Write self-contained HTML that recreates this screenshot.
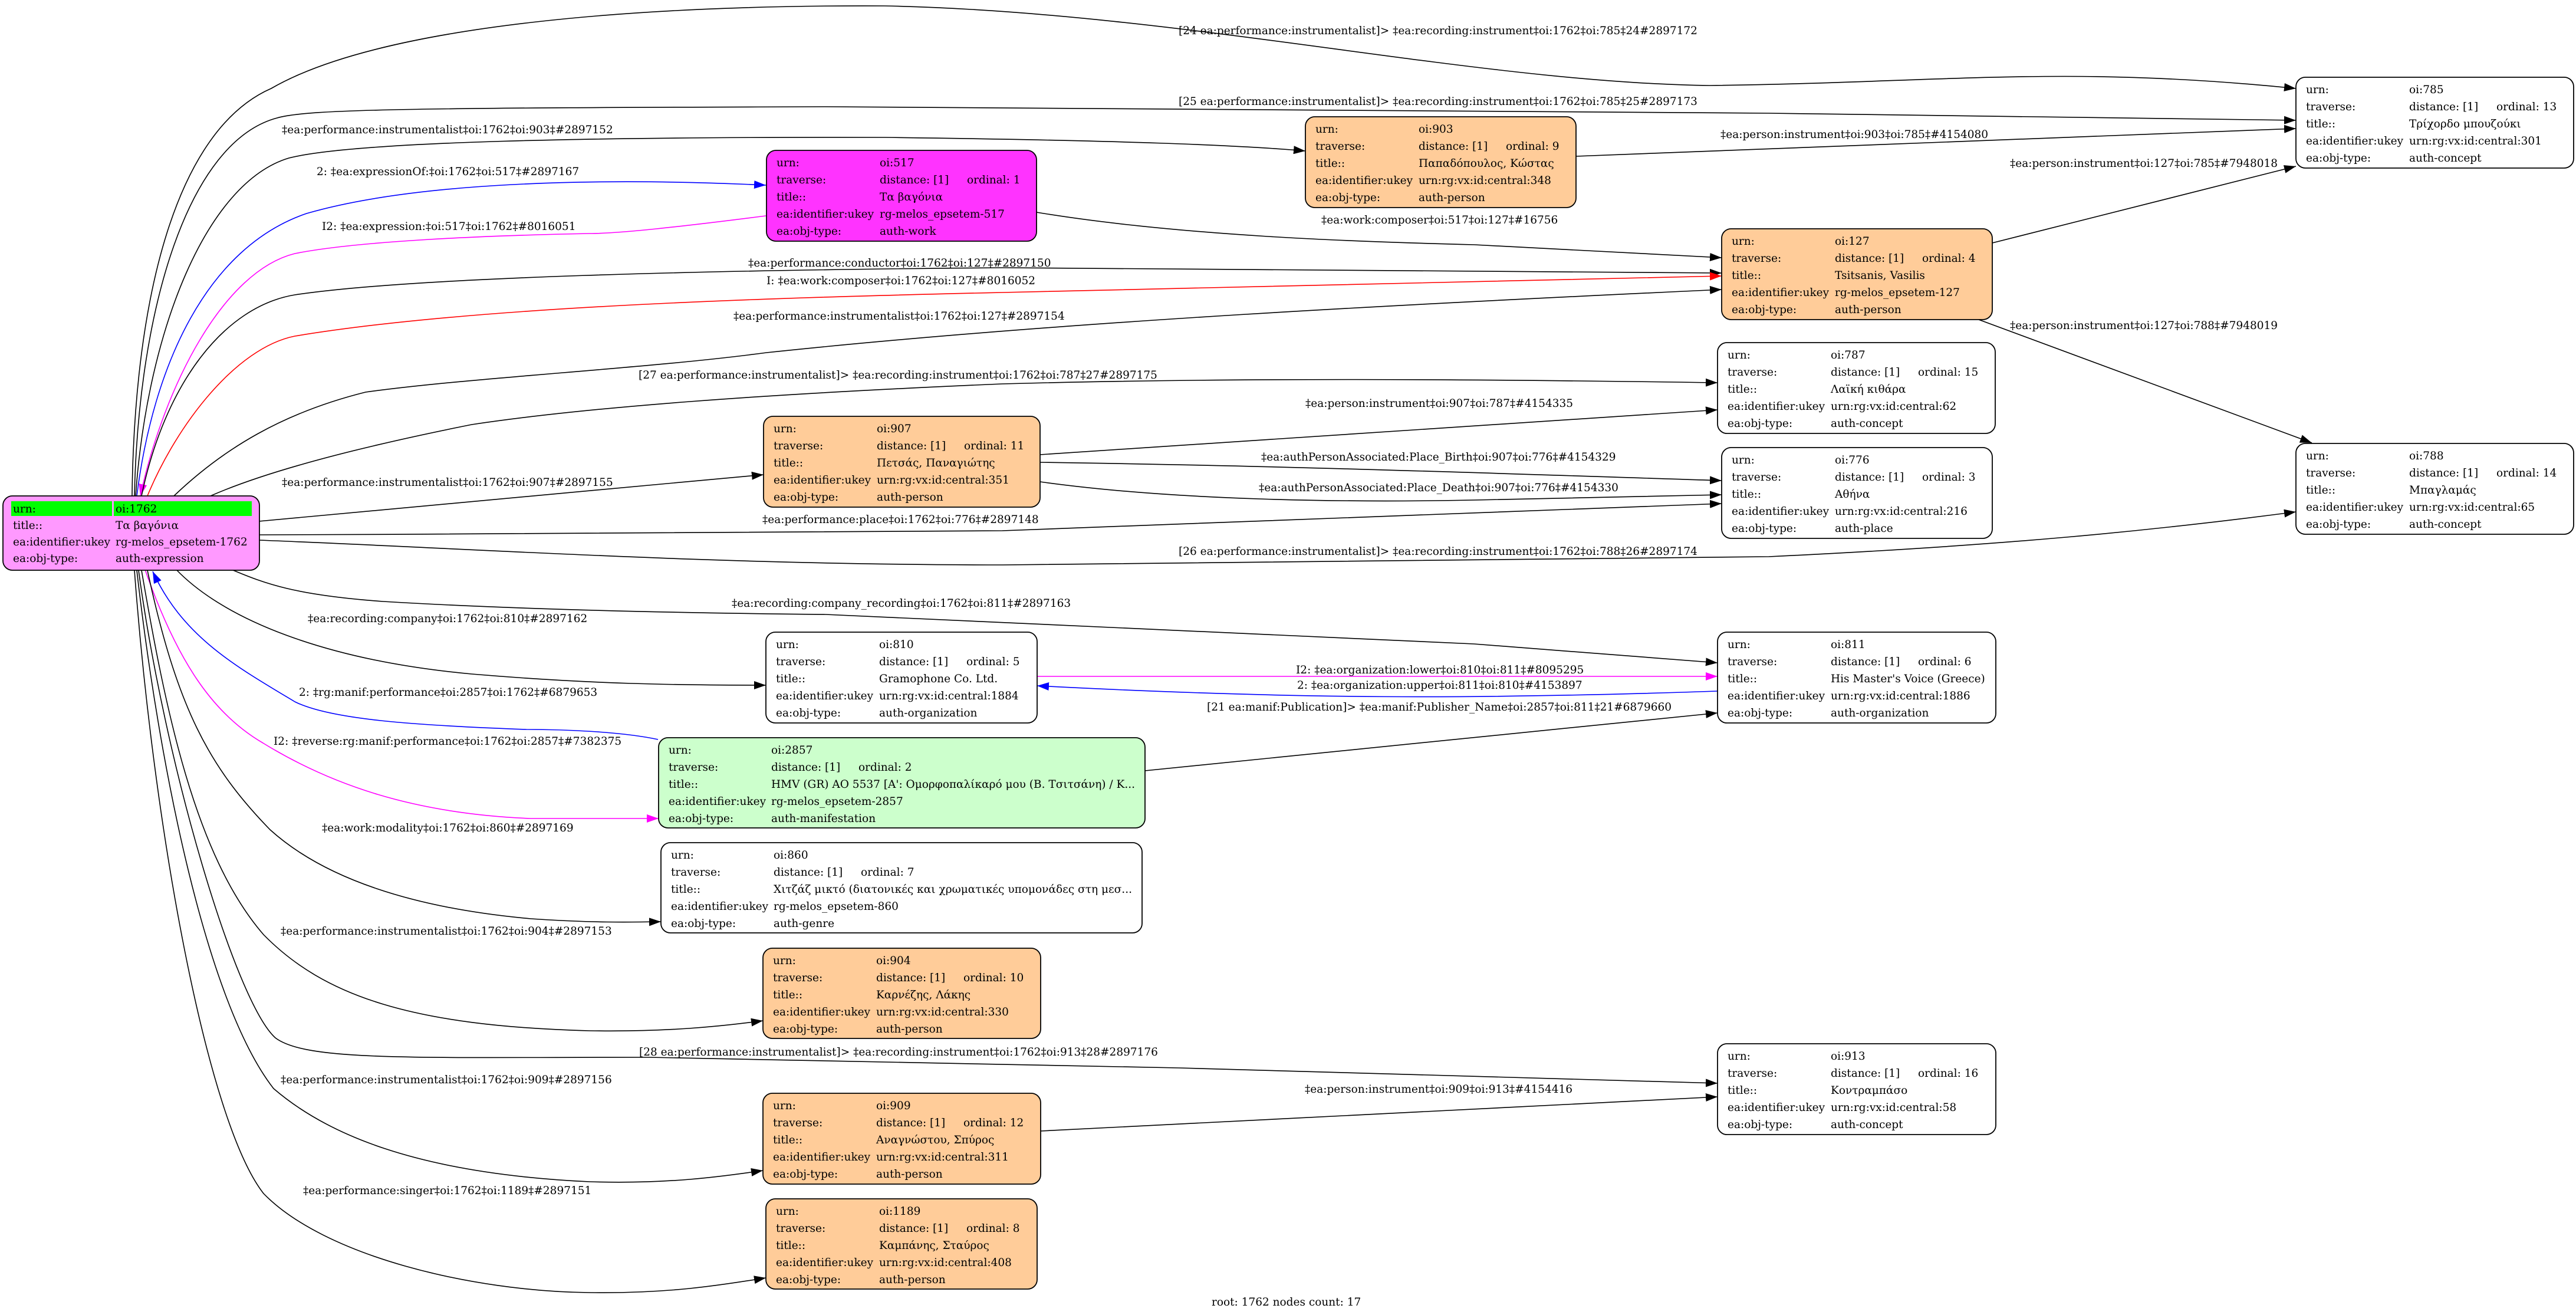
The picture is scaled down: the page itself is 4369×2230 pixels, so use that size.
<!DOCTYPE html>
<html><head><meta charset="utf-8">
<style>
html,body{margin:0;padding:0;background:#fff;}
svg{display:block;}
text{font-family:"DejaVu Serif","Liberation Serif",serif;font-size:18.5px;fill:#000;}
.e{fill:none;stroke:#000;stroke-width:1.6;}
.b{stroke:#0000ff;}
.m{stroke:#ff00ff;}
.r{stroke:#ff0000;}
.n{stroke:#000;stroke-width:1.8;}
</style></head>
<body>
<svg width="4369" height="2230" viewBox="0 0 4369 2230" xmlns="http://www.w3.org/2000/svg">
<defs>
<marker id="ak" markerUnits="userSpaceOnUse" markerWidth="22" markerHeight="14" refX="20" refY="7" orient="auto"><path d="M0,0 L20,7 L0,14 z" fill="#000"/></marker>
<marker id="ab" markerUnits="userSpaceOnUse" markerWidth="22" markerHeight="14" refX="20" refY="7" orient="auto"><path d="M0,0 L20,7 L0,14 z" fill="#0000ff"/></marker>
<marker id="am" markerUnits="userSpaceOnUse" markerWidth="22" markerHeight="14" refX="20" refY="7" orient="auto"><path d="M0,0 L20,7 L0,14 z" fill="#ff00ff"/></marker>
<marker id="ar" markerUnits="userSpaceOnUse" markerWidth="22" markerHeight="14" refX="20" refY="7" orient="auto"><path d="M0,0 L20,7 L0,14 z" fill="#ff0000"/></marker>
</defs>

<!-- edges -->
<path class="e" marker-end="url(#ak)" d="M224,841 C228,500 300,220 460,150 C650,40 1100,8 1500,10 C2000,20 2500,140 2900,145 C3300,140 3500,110 3894,150"/>
<text x="1999" y="58">[24 ea:performance:instrumentalist]&gt; ‡ea:recording:instrument‡oi:1762‡oi:785‡24#2897172</text>

<path class="e" marker-end="url(#ak)" d="M228,841 C235,520 320,240 470,200 C520,185 700,183 1400,181 L3000,192 L3894,204"/>
<text x="1999" y="178">[25 ea:performance:instrumentalist]&gt; ‡ea:recording:instrument‡oi:1762‡oi:785‡25#2897173</text>

<path class="e" marker-end="url(#ak)" d="M230,841 C250,560 350,310 490,268 C600,240 1000,232 1500,233 C1900,238 2100,246 2214,256"/>
<text x="478" y="226">‡ea:performance:instrumentalist‡oi:1762‡oi:903‡#2897152</text>

<path class="e b" marker-end="url(#ab)" d="M232,841 C260,620 350,420 520,362 C700,310 1000,300 1299,314"/>
<text x="537" y="297">2: ‡ea:expressionOf:‡oi:1762‡oi:517‡#2897167</text>

<path class="e m" marker-end="url(#am)" d="M1299,366 C1150,385 1050,396 1000,396 C800,400 600,410 500,430 C380,460 280,650 238,841"/>
<text x="546" y="390">I2: ‡ea:expression:‡oi:517‡oi:1762‡#8016051</text>

<path class="e" marker-end="url(#ak)" d="M240,841 C280,650 380,520 500,500 C700,470 1200,458 1700,454 L2920,463"/>
<text x="1269" y="452">‡ea:performance:conductor‡oi:1762‡oi:127‡#2897150</text>

<path class="e r" marker-end="url(#ar)" d="M250,841 C300,720 400,590 500,570 C800,520 1300,505 1700,496 L2920,468"/>
<text x="1300" y="482">I: ‡ea:work:composer‡oi:1762‡oi:127‡#8016052</text>

<path class="e" marker-end="url(#ak)" d="M295,841 C380,760 480,700 620,665 C800,640 1100,625 1300,598 C1800,545 2400,515 2920,491"/>
<text x="1244" y="542">‡ea:performance:instrumentalist‡oi:1762‡oi:127‡#2897154</text>

<path class="e" marker-end="url(#ak)" d="M357,841 C450,800 600,760 800,720 C1000,690 1300,668 1700,651 C2100,640 2500,643 2913,649"/>
<text x="1083" y="642">[27 ea:performance:instrumentalist]&gt; ‡ea:recording:instrument‡oi:1762‡oi:787‡27#2897175</text>

<path class="e" marker-end="url(#ak)" d="M439,884 C700,860 1000,832 1295,805"/>
<text x="478" y="824">‡ea:performance:instrumentalist‡oi:1762‡oi:907‡#2897155</text>

<path class="e" marker-end="url(#ak)" d="M439,907 C900,905 1400,905 1700,900 L2920,854"/>
<text x="1293" y="887">‡ea:performance:place‡oi:1762‡oi:776‡#2897148</text>

<path class="e" marker-end="url(#ak)" d="M439,916 C800,930 1200,958 1700,958 L3000,944 C3400,925 3650,900 3894,868"/>
<text x="1999" y="941">[26 ea:performance:instrumentalist]&gt; ‡ea:recording:instrument‡oi:1762‡oi:788‡26#2897174</text>

<path class="e" marker-end="url(#ak)" d="M393,966 C450,990 500,1009 650,1020 C900,1035 1200,1040 1400,1042 L2500,1092 L2913,1124"/>
<text x="1241" y="1029">‡ea:recording:company_recording‡oi:1762‡oi:811‡#2897163</text>

<path class="e" marker-end="url(#ak)" d="M299,966 C380,1050 550,1120 800,1143 C1000,1160 1150,1162 1299,1162"/>
<text x="522" y="1055">‡ea:recording:company‡oi:1762‡oi:810‡#2897162</text>

<path class="e b" marker-end="url(#ab)" d="M1116,1254 C1050,1240 950,1237 893,1237 C700,1230 560,1220 500,1190 C400,1130 310,1080 259,969"/>
<text x="507" y="1180">2: ‡rg:manif:performance‡oi:2857‡oi:1762‡#6879653</text>

<path class="e m" marker-end="url(#am)" d="M246,966 C300,1120 360,1210 446,1260 C560,1330 700,1380 900,1388 L1117,1388"/>
<text x="464" y="1263">I2: ‡reverse:rg:manif:performance‡oi:1762‡oi:2857‡#7382375</text>

<path class="e" marker-end="url(#ak)" d="M250,967 C300,1200 354,1300 458,1407 C550,1490 700,1540 900,1558 C1000,1565 1070,1564 1121,1563"/>
<text x="546" y="1410">‡ea:work:modality‡oi:1762‡oi:860‡#2897169</text>

<path class="e" marker-end="url(#ak)" d="M240,967 C280,1200 330,1450 447,1585 C550,1690 700,1740 1000,1748 C1130,1750 1220,1741 1294,1731"/>
<text x="476" y="1585">‡ea:performance:instrumentalist‡oi:1762‡oi:904‡#2897153</text>

<path class="e" marker-end="url(#ak)" d="M235,967 C280,1300 400,1700 467,1760 C520,1800 700,1793 1100,1793 L2000,1811 L2913,1837"/>
<text x="1084" y="1790">[28 ea:performance:instrumentalist]&gt; ‡ea:recording:instrument‡oi:1762‡oi:913‡28#2897176</text>

<path class="e" marker-end="url(#ak)" d="M232,967 C270,1300 350,1700 464,1846 C550,1920 700,1990 1000,2004 C1130,2008 1220,1996 1294,1985"/>
<text x="476" y="1837">‡ea:performance:instrumentalist‡oi:1762‡oi:909‡#2897156</text>

<path class="e" marker-end="url(#ak)" d="M228,967 C260,1400 350,1900 447,2024 C550,2130 800,2190 1000,2192 C1130,2194 1220,2180 1299,2167"/>
<text x="514" y="2025">‡ea:performance:singer‡oi:1762‡oi:1189‡#2897151</text>

<path class="e" marker-end="url(#ak)" d="M1765,1918 L2913,1860"/>
<text x="2213" y="1853">‡ea:person:instrument‡oi:909‡oi:913‡#4154416</text>

<path class="e" marker-end="url(#ak)" d="M1758,360 C2000,400 2300,410 2500,415 L2920,437"/>
<text x="2241" y="379">‡ea:work:composer‡oi:517‡oi:127‡#16756</text>

<path class="e" marker-end="url(#ak)" d="M2673,265 L3894,218"/>
<text x="2918" y="234">‡ea:person:instrument‡oi:903‡oi:785‡#4154080</text>

<path class="e" marker-end="url(#ak)" d="M3379,412 L3894,282"/>
<text x="3409" y="283">‡ea:person:instrument‡oi:127‡oi:785‡#7948018</text>

<path class="e" marker-end="url(#ak)" d="M3356,542 L3921,751"/>
<text x="3409" y="558">‡ea:person:instrument‡oi:127‡oi:788‡#7948019</text>

<path class="e" marker-end="url(#ak)" d="M1764,771 L2913,695"/>
<text x="2214" y="690">‡ea:person:instrument‡oi:907‡oi:787‡#4154335</text>

<path class="e" marker-end="url(#ak)" d="M1764,784 C2200,790 2600,805 2920,815"/>
<text x="2139" y="781">‡ea:authPersonAssociated:Place_Birth‡oi:907‡oi:776‡#4154329</text>

<path class="e" marker-end="url(#ak)" d="M1764,817 C2000,850 2300,852 2500,848 L2920,839"/>
<text x="2135" y="833">‡ea:authPersonAssociated:Place_Death‡oi:907‡oi:776‡#4154330</text>

<path class="e m" marker-end="url(#am)" d="M1759,1147 L2913,1147"/>
<text x="2198" y="1142">I2: ‡ea:organization:lower‡oi:810‡oi:811‡#8095295</text>

<path class="e b" marker-end="url(#ab)" d="M2913,1172 C2500,1186 2200,1186 1759,1163"/>
<text x="2200" y="1168">2: ‡ea:organization:upper‡oi:811‡oi:810‡#4153897</text>

<path class="e" marker-end="url(#ak)" d="M1942,1307 L2913,1209"/>
<text x="2047" y="1205">[21 ea:manif:Publication]&gt; ‡ea:manif:Publisher_Name‡oi:2857‡oi:811‡21#6879660</text>

<!-- nodes -->
<g transform="translate(5,841)">
<rect class="n" width="435" height="126" rx="16" fill="#ff99ff"/>
<rect x="14" y="9" width="171" height="25" fill="#00ff00"/>
<rect x="188" y="9" width="234" height="25" fill="#00ff00"/>
<text x="17" y="28">urn:</text><text x="191" y="28">oi:1762</text>
<text x="17" y="56">title::</text><text x="191" y="56">Τα βαγόνια</text>
<text x="17" y="84">ea:identifier:ukey</text><text x="191" y="84">rg-melos_epsetem-1762</text>
<text x="17" y="112">ea:obj-type:</text><text x="191" y="112">auth-expression</text>
</g>

<g transform="translate(1300,255)">
<rect class="n" width="458" height="154" rx="16" fill="#ff33ff"/>
<text x="17" y="27">urn:</text><text x="192" y="27">oi:517</text>
<text x="17" y="56">traverse:</text><text x="192" y="56">distance: [1]</text><text x="340" y="56">ordinal: 1</text>
<text x="17" y="85">title::</text><text x="192" y="85">Τα βαγόνια</text>
<text x="17" y="114">ea:identifier:ukey</text><text x="192" y="114">rg-melos_epsetem-517</text>
<text x="17" y="143">ea:obj-type:</text><text x="192" y="143">auth-work</text>
</g>

<g transform="translate(2214,198)">
<rect class="n" width="459" height="154" rx="16" fill="#ffcc99"/>
<text x="17" y="27">urn:</text><text x="192" y="27">oi:903</text>
<text x="17" y="56">traverse:</text><text x="192" y="56">distance: [1]</text><text x="340" y="56">ordinal: 9</text>
<text x="17" y="85">title::</text><text x="192" y="85">Παπαδόπουλος, Κώστας</text>
<text x="17" y="114">ea:identifier:ukey</text><text x="192" y="114">urn:rg:vx:id:central:348</text>
<text x="17" y="143">ea:obj-type:</text><text x="192" y="143">auth-person</text>
</g>

<g transform="translate(2920,388)">
<rect class="n" width="459" height="154" rx="16" fill="#ffcc99"/>
<text x="17" y="27">urn:</text><text x="192" y="27">oi:127</text>
<text x="17" y="56">traverse:</text><text x="192" y="56">distance: [1]</text><text x="340" y="56">ordinal: 4</text>
<text x="17" y="85">title::</text><text x="192" y="85">Tsitsanis, Vasilis</text>
<text x="17" y="114">ea:identifier:ukey</text><text x="192" y="114">rg-melos_epsetem-127</text>
<text x="17" y="143">ea:obj-type:</text><text x="192" y="143">auth-person</text>
</g>

<g transform="translate(3894,131)">
<rect class="n" width="471" height="154" rx="16" fill="#fff"/>
<text x="17" y="27">urn:</text><text x="192" y="27">oi:785</text>
<text x="17" y="56">traverse:</text><text x="192" y="56">distance: [1]</text><text x="340" y="56">ordinal: 13</text>
<text x="17" y="85">title::</text><text x="192" y="85">Τρίχορδο μπουζούκι</text>
<text x="17" y="114">ea:identifier:ukey</text><text x="192" y="114">urn:rg:vx:id:central:301</text>
<text x="17" y="143">ea:obj-type:</text><text x="192" y="143">auth-concept</text>
</g>

<g transform="translate(2913,581)">
<rect class="n" width="471" height="154" rx="16" fill="#fff"/>
<text x="17" y="27">urn:</text><text x="192" y="27">oi:787</text>
<text x="17" y="56">traverse:</text><text x="192" y="56">distance: [1]</text><text x="340" y="56">ordinal: 15</text>
<text x="17" y="85">title::</text><text x="192" y="85">Λαϊκή κιθάρα</text>
<text x="17" y="114">ea:identifier:ukey</text><text x="192" y="114">urn:rg:vx:id:central:62</text>
<text x="17" y="143">ea:obj-type:</text><text x="192" y="143">auth-concept</text>
</g>

<g transform="translate(1295,706)">
<rect class="n" width="469" height="154" rx="16" fill="#ffcc99"/>
<text x="17" y="27">urn:</text><text x="192" y="27">oi:907</text>
<text x="17" y="56">traverse:</text><text x="192" y="56">distance: [1]</text><text x="340" y="56">ordinal: 11</text>
<text x="17" y="85">title::</text><text x="192" y="85">Πετσάς, Παναγιώτης</text>
<text x="17" y="114">ea:identifier:ukey</text><text x="192" y="114">urn:rg:vx:id:central:351</text>
<text x="17" y="143">ea:obj-type:</text><text x="192" y="143">auth-person</text>
</g>

<g transform="translate(2920,759)">
<rect class="n" width="459" height="154" rx="16" fill="#fff"/>
<text x="17" y="27">urn:</text><text x="192" y="27">oi:776</text>
<text x="17" y="56">traverse:</text><text x="192" y="56">distance: [1]</text><text x="340" y="56">ordinal: 3</text>
<text x="17" y="85">title::</text><text x="192" y="85">Αθήνα</text>
<text x="17" y="114">ea:identifier:ukey</text><text x="192" y="114">urn:rg:vx:id:central:216</text>
<text x="17" y="143">ea:obj-type:</text><text x="192" y="143">auth-place</text>
</g>

<g transform="translate(3894,752)">
<rect class="n" width="471" height="154" rx="16" fill="#fff"/>
<text x="17" y="27">urn:</text><text x="192" y="27">oi:788</text>
<text x="17" y="56">traverse:</text><text x="192" y="56">distance: [1]</text><text x="340" y="56">ordinal: 14</text>
<text x="17" y="85">title::</text><text x="192" y="85">Μπαγλαμάς</text>
<text x="17" y="114">ea:identifier:ukey</text><text x="192" y="114">urn:rg:vx:id:central:65</text>
<text x="17" y="143">ea:obj-type:</text><text x="192" y="143">auth-concept</text>
</g>

<g transform="translate(1299,1072)">
<rect class="n" width="460" height="154" rx="16" fill="#fff"/>
<text x="17" y="27">urn:</text><text x="192" y="27">oi:810</text>
<text x="17" y="56">traverse:</text><text x="192" y="56">distance: [1]</text><text x="340" y="56">ordinal: 5</text>
<text x="17" y="85">title::</text><text x="192" y="85">Gramophone Co. Ltd.</text>
<text x="17" y="114">ea:identifier:ukey</text><text x="192" y="114">urn:rg:vx:id:central:1884</text>
<text x="17" y="143">ea:obj-type:</text><text x="192" y="143">auth-organization</text>
</g>

<g transform="translate(2913,1072)">
<rect class="n" width="472" height="154" rx="16" fill="#fff"/>
<text x="17" y="27">urn:</text><text x="192" y="27">oi:811</text>
<text x="17" y="56">traverse:</text><text x="192" y="56">distance: [1]</text><text x="340" y="56">ordinal: 6</text>
<text x="17" y="85">title::</text><text x="192" y="85">His Master's Voice (Greece)</text>
<text x="17" y="114">ea:identifier:ukey</text><text x="192" y="114">urn:rg:vx:id:central:1886</text>
<text x="17" y="143">ea:obj-type:</text><text x="192" y="143">auth-organization</text>
</g>

<g transform="translate(1117,1251)">
<rect class="n" width="825" height="153" rx="16" fill="#ccffcc"/>
<text x="17" y="27">urn:</text><text x="191" y="27">oi:2857</text>
<text x="17" y="56">traverse:</text><text x="191" y="56">distance: [1]</text><text x="339" y="56">ordinal: 2</text>
<text x="17" y="85">title::</text><text x="191" y="85" textLength="617" lengthAdjust="spacingAndGlyphs">HMV (GR) AO 5537 [Α': Ομορφοπαλίκαρό μου (Β. Τσιτσάνη) / Κ...</text>
<text x="17" y="114">ea:identifier:ukey</text><text x="191" y="114">rg-melos_epsetem-2857</text>
<text x="17" y="143">ea:obj-type:</text><text x="191" y="143">auth-manifestation</text>
</g>

<g transform="translate(1121,1429)">
<rect class="n" width="816" height="153" rx="16" fill="#fff"/>
<text x="17" y="27">urn:</text><text x="191" y="27">oi:860</text>
<text x="17" y="56">traverse:</text><text x="191" y="56">distance: [1]</text><text x="339" y="56">ordinal: 7</text>
<text x="17" y="85">title::</text><text x="191" y="85" textLength="608" lengthAdjust="spacingAndGlyphs">Χιτζάζ μικτό (διατονικές και χρωματικές υπομονάδες στη μεσ...</text>
<text x="17" y="114">ea:identifier:ukey</text><text x="191" y="114">rg-melos_epsetem-860</text>
<text x="17" y="143">ea:obj-type:</text><text x="191" y="143">auth-genre</text>
</g>

<g transform="translate(1294,1608)">
<rect class="n" width="471" height="153" rx="16" fill="#ffcc99"/>
<text x="17" y="27">urn:</text><text x="192" y="27">oi:904</text>
<text x="17" y="56">traverse:</text><text x="192" y="56">distance: [1]</text><text x="340" y="56">ordinal: 10</text>
<text x="17" y="85">title::</text><text x="192" y="85">Καρνέζης, Λάκης</text>
<text x="17" y="114">ea:identifier:ukey</text><text x="192" y="114">urn:rg:vx:id:central:330</text>
<text x="17" y="143">ea:obj-type:</text><text x="192" y="143">auth-person</text>
</g>

<g transform="translate(2913,1770)">
<rect class="n" width="472" height="154" rx="16" fill="#fff"/>
<text x="17" y="27">urn:</text><text x="192" y="27">oi:913</text>
<text x="17" y="56">traverse:</text><text x="192" y="56">distance: [1]</text><text x="340" y="56">ordinal: 16</text>
<text x="17" y="85">title::</text><text x="192" y="85">Κοντραμπάσο</text>
<text x="17" y="114">ea:identifier:ukey</text><text x="192" y="114">urn:rg:vx:id:central:58</text>
<text x="17" y="143">ea:obj-type:</text><text x="192" y="143">auth-concept</text>
</g>

<g transform="translate(1294,1854)">
<rect class="n" width="471" height="154" rx="16" fill="#ffcc99"/>
<text x="17" y="27">urn:</text><text x="192" y="27">oi:909</text>
<text x="17" y="56">traverse:</text><text x="192" y="56">distance: [1]</text><text x="340" y="56">ordinal: 12</text>
<text x="17" y="85">title::</text><text x="192" y="85">Αναγνώστου, Σπύρος</text>
<text x="17" y="114">ea:identifier:ukey</text><text x="192" y="114">urn:rg:vx:id:central:311</text>
<text x="17" y="143">ea:obj-type:</text><text x="192" y="143">auth-person</text>
</g>

<g transform="translate(1299,2033)">
<rect class="n" width="460" height="153" rx="16" fill="#ffcc99"/>
<text x="17" y="27">urn:</text><text x="192" y="27">oi:1189</text>
<text x="17" y="56">traverse:</text><text x="192" y="56">distance: [1]</text><text x="340" y="56">ordinal: 8</text>
<text x="17" y="85">title::</text><text x="192" y="85">Καμπάνης, Σταύρος</text>
<text x="17" y="114">ea:identifier:ukey</text><text x="192" y="114">urn:rg:vx:id:central:408</text>
<text x="17" y="143">ea:obj-type:</text><text x="192" y="143">auth-person</text>
</g>

<text x="2055" y="2214">root: 1762 nodes count: 17</text>
</svg>
</body></html>
